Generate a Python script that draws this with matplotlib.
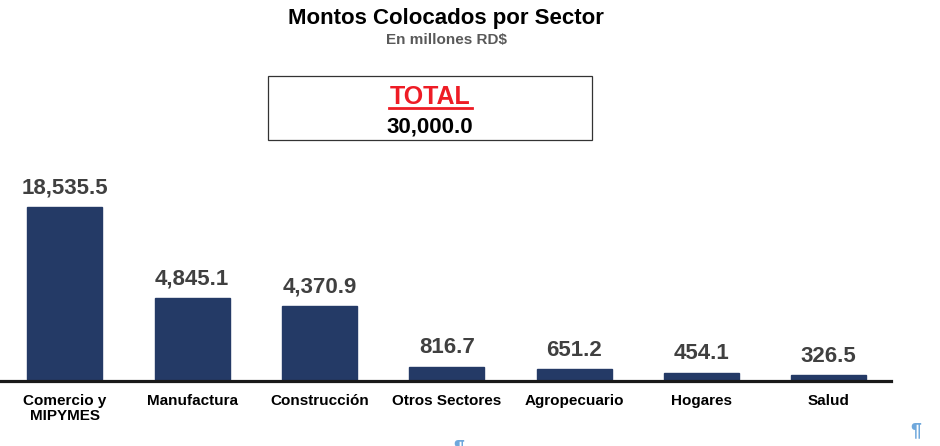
import numpy as np
import matplotlib.pyplot as plt
from matplotlib.lines import Line2D

# datos
sectores = ["Comercio y\nMIPYMES", "Manufactura", "Construcción", "Otros Sectores",
            "Agropecuario", "Hogares", "Salud"]
montos = [18535.5, 4845.1, 4370.9, 816.7, 651.2, 454.1, 326.5]
total = 30000.0

# la barra mas grande va recortada en el original
tope = 10200
alturas = np.minimum(montos, tope)

plt.rcParams['font.family'] = ['Liberation Sans', 'DejaVu Sans']
plt.rcParams['font.weight'] = 'bold'

fig = plt.figure(figsize=(9.4, 4.46), dpi=100)
ax = fig.add_axes([0.0, (446 - 380.5) / 446, 891 / 940, 230 / 446])

x = np.arange(len(sectores))
bars = ax.bar(x, alturas, width=0.59, color='#243A66', edgecolor='#243A66', zorder=2)

for xi, h, v in zip(x, alturas, montos):
    ax.annotate(f"{v:,.1f}", (xi, h), xytext=(0, 6), textcoords='offset points',
                ha='center', va='bottom', fontsize=16, fontweight='bold', color='#404040')

ax.set_xlim(-0.51, 6.49)
ax.set_ylim(0, 13530)
ax.set_xticks(x)
ax.set_xticklabels(sectores, fontsize=11, fontweight='bold', linespacing=1.05)
ax.tick_params(axis='x', length=0, pad=10)
ax.set_yticks([])
for s in ['top', 'left', 'right']:
    ax.spines[s].set_visible(False)
ax.spines['bottom'].set_linewidth(2.3)
ax.spines['bottom'].set_color('#1a1a1a')
ax.spines['bottom'].set_zorder(3)

# titulos
fig.text(446 / 940, 1 - 24 / 446, "Montos Colocados por Sector", ha='center', va='baseline',
         fontsize=16, fontweight='bold', color='black')
fig.text(446 / 940, 1 - 44 / 446, "En millones RD$", ha='center', va='baseline',
         fontsize=11, fontweight='bold', color='#595959')

# recuadro del total
caja = plt.Rectangle((268 / 940, 1 - 140 / 446), 324 / 940, 64 / 446, transform=fig.transFigure,
                     facecolor='white', edgecolor='#333333', linewidth=0.9)
fig.add_artist(caja)
fig.text(430 / 940, 1 - 104 / 446, "TOTAL", ha='center', va='baseline',
         fontsize=18, fontweight='bold', color='#EE1C25')
fig.add_artist(Line2D([389 / 940, 472 / 940], [1 - 108 / 446, 1 - 108 / 446],
                      transform=fig.transFigure, color='#EE1C25', linewidth=2))
fig.text(430 / 940, 1 - 133 / 446, f"{total:,.1f}", ha='center', va='baseline',
         fontsize=16, fontweight='bold', color='black')

# marcas de parrafo del documento original
fig.text(916 / 940, 1 - 435 / 446, "¶", ha='center', va='baseline', fontsize=14,
         color='#6FA8DC')
fig.text(459 / 940, 1 - 452 / 446, "¶", ha='center', va='baseline', fontsize=14,
         color='#6FA8DC')

fig.savefig("out.png", dpi=100)
